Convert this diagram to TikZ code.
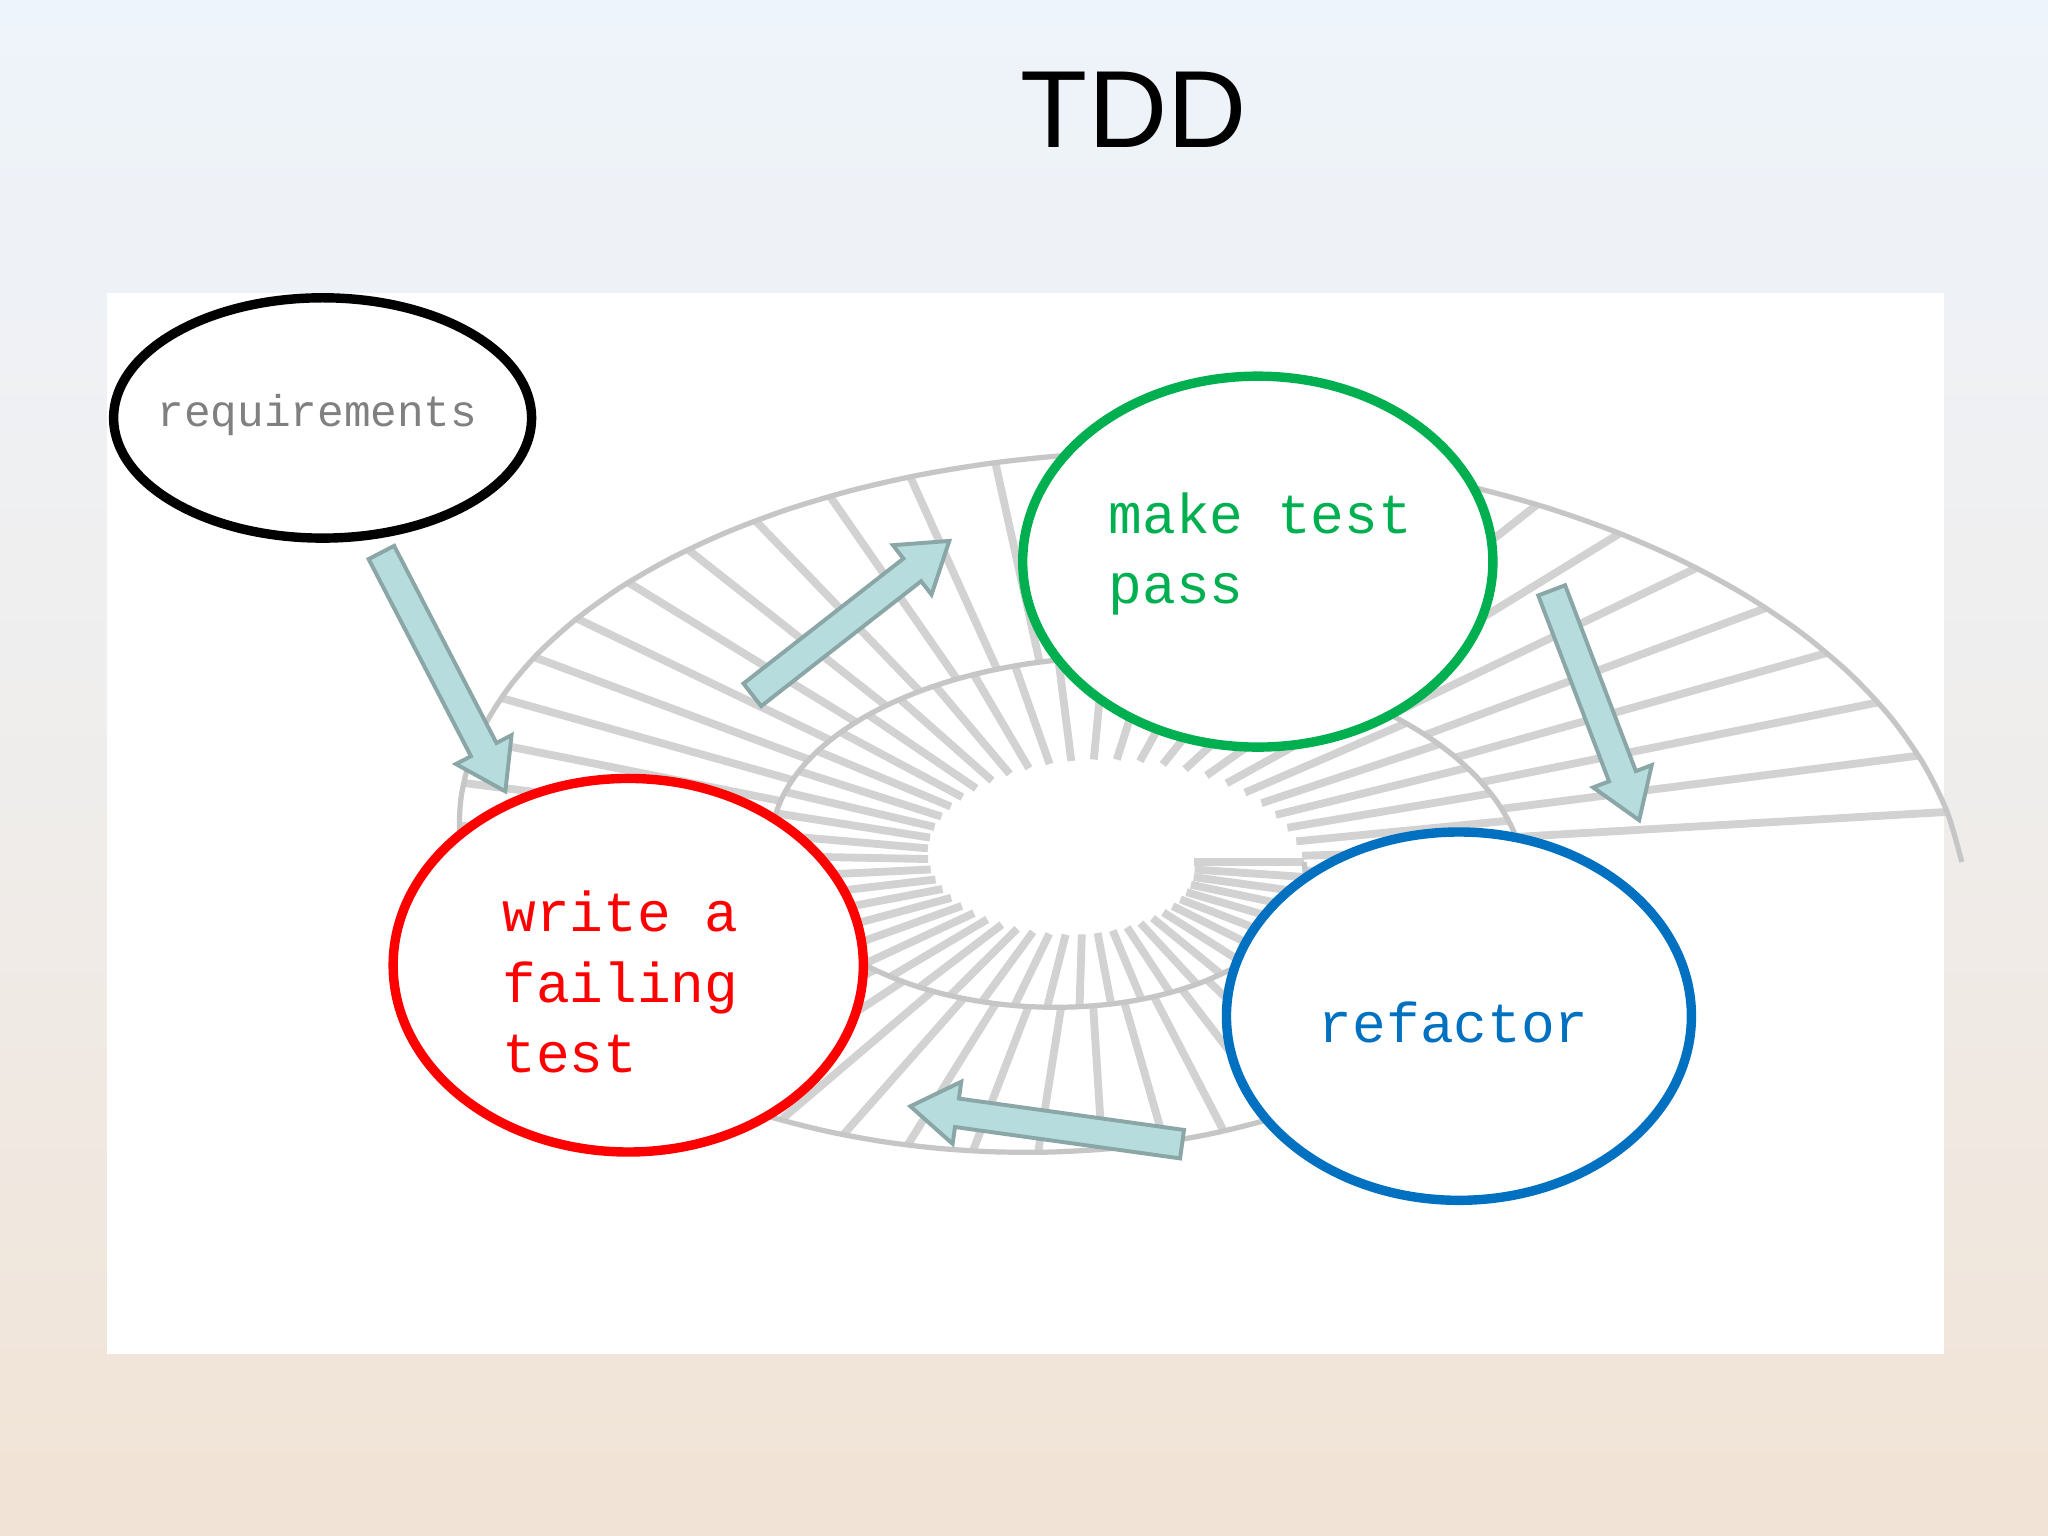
\documentclass[tikz,border=0pt]{standalone}
\usepackage{fontspec}
\setmainfont{Liberation Sans}
\newfontfamily\cour{Liberation Mono}
\usetikzlibrary{calc,shapes.geometric}
\definecolor{bgtop}{HTML}{EEF4FB}
\definecolor{bgbot}{HTML}{F1E3D5}
\definecolor{arrfill}{HTML}{B6DCDD}
\definecolor{arrline}{HTML}{8AA6A6}
\definecolor{grn}{HTML}{00B050}
\definecolor{blu}{HTML}{0070C0}
\tikzset{
 stage/.style={font=\cour\fontsize{21.5}{27}\selectfont,align=left},
 ring/.style={fill=white,line width=3.6pt},
 ribs/.style={draw=gray!35,line width=3pt},
}
\newcommand{\blockarrow}[2]{%
 \path let \p1=(#1),\p2=(#2),\n1={atan2(\y2-\y1,\x2-\x1)},\n2={veclen(\x2-\x1,\y2-\y1)} in
 [shift={(#1)},rotate=\n1] [fill=arrfill,draw=arrline,line width=1.5pt]
 (0pt,-5.5pt)--(\n2-18pt,-5.5pt)--(\n2-18pt,-12pt)--(\n2,0pt)--(\n2-18pt,12pt)--(\n2-18pt,5.5pt)--(0pt,5.5pt)--cycle;}
\begin{document}
\begin{tikzpicture}[x=0.5pt,y=-0.5pt]
\shade[top color=bgtop,bottom color=bgbot,middle color=bgtop!60!bgbot] (0,0) rectangle (1568,1176);
\useasboundingbox (0,0) rectangle (1568,1176);
\fill[white] (82,224) rectangle (1488,1037);
\node[font=\fontsize{42}{48}\selectfont] (title) at (868,84) {TDD};
% shell
\coordinate (c) at (830,660);
\foreach \t in {0,7,...,714}{
 \pgfmathsetmacro\ro{640*exp(0.0019254*(\t-720))}
 \pgfmathsetmacro\ri{\ro/2}
 \draw[ribs] ($(c)+(\t:{\ri*1.05} and {0.58*\ri})$) -- ($(c)+(\t:{\ro*1.05} and {0.58*\ro})$);
}
\draw[gray!45,line width=2pt] plot[domain=0:720,samples=120,smooth,variable=\s]
 ({830+1.05*640*exp(0.0019254*(\s-720))*cos(\s)},{660+0.58*640*exp(0.0019254*(\s-720))*sin(\s)});
% stages
\draw[ring,draw=black] (247,320) ellipse (160 and 92);
\draw[ring,draw=red] (481,739) ellipse (180 and 143);
\draw[ring,draw=grn] (963,430) ellipse (180 and 142);
\draw[ring,draw=blu] (1117,778) ellipse (178 and 141);
\node[stage,text=gray,font=\cour\fontsize{17}{20}\selectfont] (req) at (243,318) {requirements};
\node[stage,text=red] (fail) at (475,752) {write a\\failing\\test};
\node[stage,text=grn] (pass) at (965,424) {make test\\pass};
\node[stage,text=blu] (ref) at (1113,783) {refactor};
\coordinate (a1s) at (292,423); \coordinate (a1e) at (387,606);
\coordinate (a2s) at (576,532); \coordinate (a2e) at (727,414);
\coordinate (a3s) at (1188,452); \coordinate (a3e) at (1255,628);
\coordinate (a4s) at (905,876); \coordinate (a4e) at (697,847);
\blockarrow{a1s}{a1e}
\blockarrow{a2s}{a2e}
\blockarrow{a3s}{a3e}
\blockarrow{a4s}{a4e}
\end{tikzpicture}
\end{document}
